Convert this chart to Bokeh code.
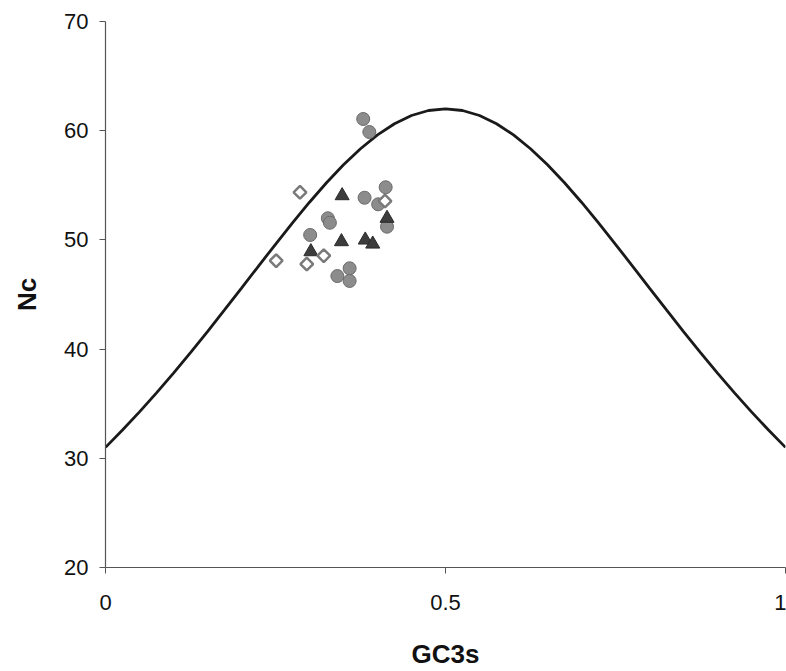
from bokeh.plotting import figure
from bokeh.models import FixedTicker, Range1d
from bokeh.embed import file_html
from bokeh.resources import INLINE

# Expected Nc curve
curve_x = [0.0, 0.025, 0.05, 0.075, 0.1, 0.125, 0.15, 0.175, 0.2, 0.225, 0.25,
           0.275, 0.3, 0.325, 0.35, 0.375, 0.4, 0.425, 0.45, 0.475, 0.5,
           0.525, 0.55, 0.575, 0.6, 0.625, 0.65, 0.675, 0.7, 0.725, 0.75,
           0.775, 0.8, 0.825, 0.85, 0.875, 0.9, 0.925, 0.95, 0.975, 1.0]
curve_y = [31.00, 32.59, 34.25, 35.99, 37.80, 39.68, 41.61, 43.59, 45.59, 47.60, 49.60,
           51.56, 53.45, 55.23, 56.88, 58.35, 59.62, 60.64, 61.39, 61.85, 62.00,
           61.85, 61.39, 60.64, 59.62, 58.35, 56.88, 55.23, 53.45, 51.56, 49.60,
           47.60, 45.59, 43.59, 41.61, 39.68, 37.80, 35.99, 34.25, 32.59, 31.00]

# Circles
circ_x = [0.379, 0.388, 0.412, 0.381, 0.401, 0.327, 0.330, 0.414, 0.301, 0.359, 0.341, 0.359]
circ_y = [61.07, 59.88, 54.82, 53.86, 53.26, 51.98, 51.57, 51.21, 50.45, 47.40, 46.69, 46.24]

# Triangles
tri_x = [0.348, 0.414, 0.347, 0.382, 0.393, 0.302]
tri_y = [54.05, 51.98, 49.84, 49.99, 49.62, 48.92]

# Diamonds (open)
dia_x = [0.286, 0.411, 0.321, 0.296, 0.251]
dia_y = [54.36, 53.56, 48.55, 47.79, 48.10]

x_ticks = [0, 0.5, 1]
y_ticks = [20, 30, 40, 50, 60, 70]

p = figure(width=786, height=671, output_backend="svg", toolbar_location=None,
           x_range=Range1d(0, 1), y_range=Range1d(20, 70),
           min_border_left=105, min_border_right=1, min_border_top=21, min_border_bottom=104)
p.outline_line_color = None
p.grid.visible = False

p.line(curve_x, curve_y, line_color="#1a1a1a", line_width=2.8)

p.scatter(circ_x, circ_y, marker="circle", size=13, fill_color="#8c8c8c",
          line_color="#6a6a6a", line_width=1)
p.scatter(tri_x, tri_y, marker="triangle", size=14, fill_color="#3c3c3c",
          line_color="#2a2a2a", line_width=1)
p.scatter(dia_x, dia_y, marker="square", angle=0.785, size=9, fill_color="white",
          line_color="#7a7a7a", line_width=2.5)

for ax in (p.xaxis[0], p.yaxis[0]):
    ax.axis_line_color = "#555555"
    ax.axis_line_width = 1.2
    ax.major_tick_line_color = "#555555"
    ax.minor_tick_line_color = None
    ax.major_tick_in = 0
    ax.major_tick_out = 6
    ax.major_label_text_font = "Liberation Sans"
    ax.major_label_text_font_size = "22px"
    ax.major_label_text_color = "#111111"
    ax.axis_label_text_font = "Liberation Sans"
    ax.axis_label_text_font_size = "26px"
    ax.axis_label_text_font_style = "bold"
    ax.axis_label_text_color = "#111111"

p.xaxis.ticker = FixedTicker(ticks=x_ticks)
p.yaxis.ticker = FixedTicker(ticks=y_ticks)
p.xaxis.major_label_overrides = {0: "0", 0.5: "0.5", 1: "1"}
p.xaxis.axis_label = "GC3s"
p.yaxis.axis_label = "Nc"
p.xaxis.major_label_standoff = 21
p.xaxis.axis_label_standoff = 26
p.yaxis.major_label_standoff = 11
p.yaxis.axis_label_standoff = 19

open("out.html", "w").write(file_html(p, INLINE))
